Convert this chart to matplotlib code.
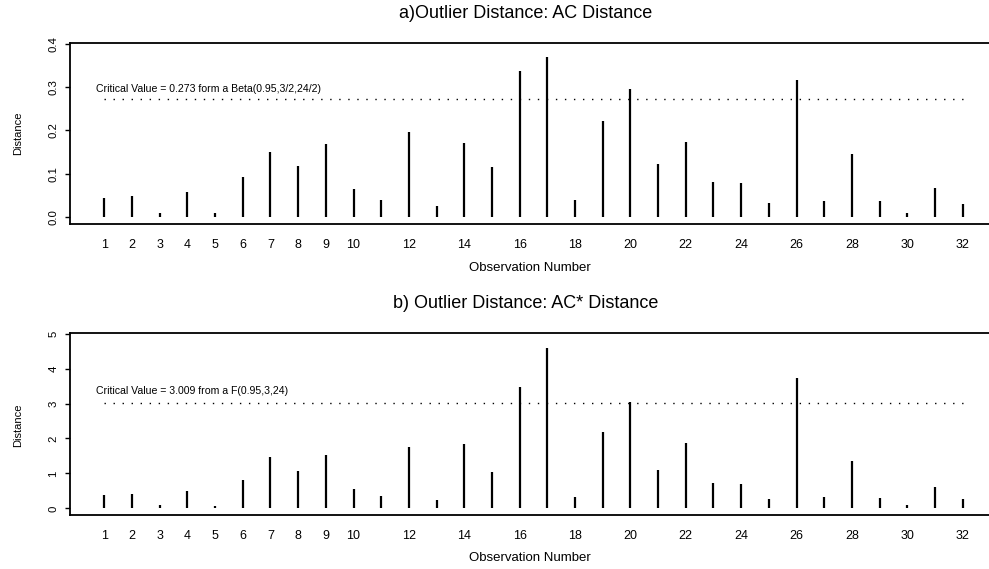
import numpy as np
import matplotlib
matplotlib.use("Agg")
import matplotlib.pyplot as plt

plt.rcParams["font.family"] = ["Liberation Sans", "DejaVu Sans"]

obs = np.arange(1, 33)

ac_dist = [0.045, 0.048, 0.010, 0.059, 0.0085, 0.093, 0.151, 0.117, 0.168, 0.064,
           0.039, 0.196, 0.026, 0.171, 0.115, 0.338, 0.370, 0.0386, 0.223, 0.2965,
           0.122, 0.1745, 0.081, 0.0795, 0.0317, 0.3166, 0.037, 0.1467, 0.036, 0.0085,
           0.068, 0.030]

acstar_dist = [0.38, 0.41, 0.086, 0.50, 0.076, 0.82, 1.47, 1.06, 1.52, 0.54,
               0.35, 1.77, 0.23, 1.85, 1.05, 3.46, 4.59, 0.33, 2.18, 3.05,
               1.09, 1.87, 0.73, 0.71, 0.28, 3.74, 0.32, 1.37, 0.31, 0.086,
               0.60, 0.26]

xtick_vals = list(range(1, 11)) + list(range(12, 33, 2))

crit_a = 0.273
crit_b = 3.009

W, H = 989, 569
fig = plt.figure(figsize=(W / 100, H / 100), dpi=100)


def panel(top_px, bottom_px, values, crit, ylim, yticks, yticklabels,
          note, note_y, title, title_y, xlab_y, ylab_y):
    ax = fig.add_axes([70 / W, 1 - bottom_px / H, 1 - 70 / W, (bottom_px - top_px) / H])
    ax.vlines(obs, 0, values, color="black", linewidth=1.6)
    ax.hlines(crit, 1, 32, color="black", linewidth=1.0, linestyle=(0, (1, 5.5)))
    ax.text(0.7, note_y, note, fontsize=7.6, ha="left", va="center")
    ax.set_xlim(-0.24, 32.95)
    ax.set_ylim(*ylim)
    ax.set_xticks(xtick_vals)
    ax.set_xticklabels([str(v) for v in xtick_vals], fontsize=9)
    ax.set_yticks(yticks)
    ax.set_yticklabels(yticklabels, fontsize=8.2, rotation=90, va="center")
    ax.tick_params(axis="x", length=0, pad=11)
    ax.tick_params(axis="y", length=3.5, width=1.0, pad=5)
    ax.spines["right"].set_visible(False)
    for s in ["left", "top", "bottom"]:
        ax.spines[s].set_linewidth(1.3)
    fig.text(526 / W, 1 - title_y / H, title, fontsize=13, ha="center", va="center")
    fig.text(530 / W, 1 - xlab_y / H, "Observation Number", fontsize=9.5,
             ha="center", va="center")
    fig.text(18 / W, 1 - ylab_y / H, "Distance", fontsize=8, rotation=90,
             ha="center", va="center")
    return ax


panel(43, 224, ac_dist, crit_a, (-0.016, 0.402),
      [0.0, 0.1, 0.2, 0.3, 0.4], ["0.0", "0.1", "0.2", "0.3", "0.4"],
      "Critical Value = 0.273 form a Beta(0.95,3/2,24/2)", 0.296,
      "a)Outlier Distance: AC Distance", 13, 268, 133)

panel(333, 515, acstar_dist, crit_b, (-0.19, 5.02),
      [0, 1, 2, 3, 4, 5], ["0", "1", "2", "3", "4", "5"],
      "Critical Value = 3.009 from a F(0.95,3,24)", 3.37,
      "b) Outlier Distance: AC* Distance", 304, 558, 425)

fig.savefig("out.png", dpi=100)
